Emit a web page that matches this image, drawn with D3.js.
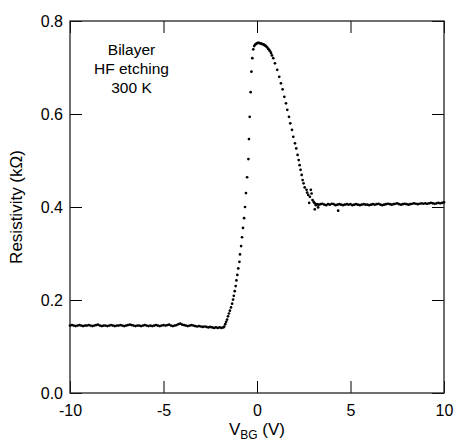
<!DOCTYPE html>
<html>
<head>
<meta charset="utf-8">
<script src="https://cdn.jsdelivr.net/npm/d3@7"></script>
<style>
  body { margin: 0; background: #fff; }
  text { font-family: "Liberation Sans", Arial, sans-serif; fill: #000; }
</style>
</head>
<body>
<div id="chart"></div>
<script>
// gate sweep, plateaus sampled every 0.1 V
var leftStart = -10.0, leftStep = 0.1;
var leftPlateau = [
  0.145,0.146,0.145,0.144,0.145,0.146,0.145,0.144,0.145,0.145,
  0.146,0.145,0.144,0.145,0.146,0.147,0.145,0.144,0.145,0.145,
  0.144,0.145,0.146,0.145,0.144,0.145,0.145,0.146,0.145,0.144,
  0.145,0.146,0.147,0.146,0.145,0.144,0.145,0.145,0.144,0.145,
  0.146,0.145,0.144,0.145,0.144,0.145,0.146,0.145,0.144,0.145,
  0.146,0.145,0.146,0.147,0.145,0.144,0.145,0.146,0.148,0.149,
  0.147,0.146,0.145,0.144,0.145,0.146,0.145,0.144,0.143,0.144,
  0.143,0.142,0.143,0.142,0.141,0.142,0.141,0.140,0.141,0.140,
  0.141,0.140,0.141
];

var rightStart = 3.3, rightStep = 0.1;
var rightPlateau = [
  0.405,0.406,0.407,0.405,0.404,0.406,0.405,0.407,0.406,0.404,
  0.405,0.406,0.405,0.404,0.405,0.406,0.405,0.406,0.404,0.405,
  0.406,0.405,0.404,0.405,0.406,0.405,0.405,0.404,0.405,0.406,
  0.405,0.406,0.407,0.405,0.404,0.405,0.406,0.407,0.406,0.405,
  0.406,0.407,0.408,0.406,0.405,0.406,0.407,0.406,0.405,0.406,
  0.407,0.408,0.407,0.406,0.407,0.408,0.407,0.408,0.407,0.408,
  0.409,0.408,0.407,0.408,0.409,0.408,0.409,0.410
];

// the steep part, read point by point
var riseV = [-1.75,-1.70,-1.65,-1.60,-1.55,-1.50,-1.45,-1.39,-1.33,-1.28,-1.24,-1.19,
  -1.14,-1.10,-1.05,-1.00,-0.94,-0.91,-0.85,-0.80,-0.75,-0.69,-0.64,-0.59,-0.53,
  -0.46,-0.43,-0.39,-0.34,-0.30,-0.25,-0.20];
var riseR = [0.143,0.148,0.153,0.158,0.165,0.171,0.177,0.184,0.192,0.201,0.209,0.219,
  0.230,0.242,0.254,0.268,0.282,0.298,0.316,0.335,0.355,0.376,0.400,0.430,0.464,
  0.503,0.546,0.594,0.647,0.691,0.720,0.739];

var peakV = [-0.15,-0.10,-0.05,0.00,0.05,0.10,0.15,0.20,0.25,0.30,0.35,0.40,0.45,
  0.50,0.55,0.60,0.65,0.70,0.75,0.80];
var peakR = [0.746,0.749,0.751,0.752,0.753,0.753,0.752,0.752,0.751,0.750,0.750,0.748,
  0.747,0.745,0.743,0.740,0.738,0.735,0.731,0.726];

var fallV = [0.87,0.96,1.08,1.19,1.28,1.37,1.46,1.55,1.62,1.71,1.78,1.87,1.94,2.03,
  2.10,2.17,2.23,2.28,2.33,2.39,2.44,2.49,2.55,2.65,2.68,2.74,2.79,2.83,2.88,2.92,
  2.97,3.03,3.09,3.09,3.15,3.21,3.27,4.34];
var fallR = [0.720,0.709,0.695,0.680,0.666,0.653,0.637,0.623,0.609,0.594,0.580,0.566,
  0.551,0.537,0.526,0.512,0.501,0.490,0.480,0.469,0.458,0.451,0.442,0.437,0.431,
  0.426,0.409,0.422,0.437,0.429,0.415,0.411,0.408,0.395,0.404,0.406,0.399,0.392];

var xTicks = [-10, -5, 0, 5, 10];
var yTicks = [0.0, 0.2, 0.4, 0.6, 0.8];
var noteLines = ["Bilayer", "HF etching", "300 K"];

var width = 455, height = 440;
var margin = { top: 21, right: 11, bottom: 47, left: 70 };
var w = width - margin.left - margin.right;
var h = height - margin.top - margin.bottom;

function build_points() {
  var pts = [];
  leftPlateau.forEach(function(r, i) { pts.push([leftStart + i * leftStep, r]); });
  riseV.forEach(function(v, i) { pts.push([v, riseR[i]]); });
  peakV.forEach(function(v, i) { pts.push([v, peakR[i]]); });
  fallV.forEach(function(v, i) { pts.push([v, fallR[i]]); });
  rightPlateau.forEach(function(r, i) { pts.push([rightStart + i * rightStep, r]); });
  return pts;
}

var svg = d3.select("#chart").append("svg")
    .attr("width", width)
    .attr("height", height);

var g = svg.append("g")
    .attr("transform", "translate(" + margin.left + "," + margin.top + ")");

var x = d3.scaleLinear().domain([-10, 10]).range([0, w]);
var y = d3.scaleLinear().domain([0, 0.8]).range([h, 0]);

// ticks on all four sides, pointing in
var axBottom = g.append("g").attr("transform", "translate(0," + h + ")")
    .call(d3.axisBottom(x).tickValues(xTicks).tickSize(-12).tickPadding(12)
      .tickFormat(function(d) { return String(d); }));
var axTop = g.append("g")
    .call(d3.axisTop(x).tickValues(xTicks).tickSize(-12).tickFormat(""));
var axLeft = g.append("g")
    .call(d3.axisLeft(y).tickValues(yTicks).tickSize(-12).tickPadding(7)
      .tickFormat(d3.format(".1f")));
var axRight = g.append("g").attr("transform", "translate(" + w + ",0)")
    .call(d3.axisRight(y).tickValues(yTicks).tickSize(-12).tickFormat(""));

[axBottom, axTop, axLeft, axRight].forEach(function(a) {
  a.select(".domain").remove();
  a.selectAll(".tick line").attr("stroke", "#000").attr("stroke-width", 1);
  a.selectAll(".tick text").style("font-size", "16px")
    .style("font-family", "'Liberation Sans', Arial, sans-serif").attr("fill", "#000");
});

g.append("rect")
    .attr("x", 0).attr("y", 0).attr("width", w).attr("height", h)
    .attr("fill", "none").attr("stroke", "#222").attr("stroke-width", 1.3);

g.append("g").selectAll("circle")
    .data(build_points())
    .join("circle")
    .attr("cx", function(d) { return x(d[0]); })
    .attr("cy", function(d) { return y(d[1]); })
    .attr("r", 1.35)
    .attr("fill", "#000");

// annotation
var note = g.append("text")
    .attr("text-anchor", "middle")
    .style("font-size", "15.5px");
noteLines.forEach(function(t, i) {
  note.append("tspan").attr("x", 61.5).attr("y", 34 + i * 19).text(t);
});

// axis titles
var xl = svg.append("text")
    .attr("x", margin.left + w / 2)
    .attr("y", 434.5)
    .attr("text-anchor", "middle")
    .style("font-size", "17px");
xl.append("tspan").text("V");
xl.append("tspan").attr("dy", 4).style("font-size", "12px").text("BG");
xl.append("tspan").attr("dy", -4).text(" (V)");

svg.append("text")
    .attr("transform", "translate(22," + (margin.top + h / 2) + ") rotate(-90)")
    .attr("text-anchor", "middle")
    .style("font-size", "17px")
    .text("Resistivity (k\u03A9)");
</script>
</body>
</html>
